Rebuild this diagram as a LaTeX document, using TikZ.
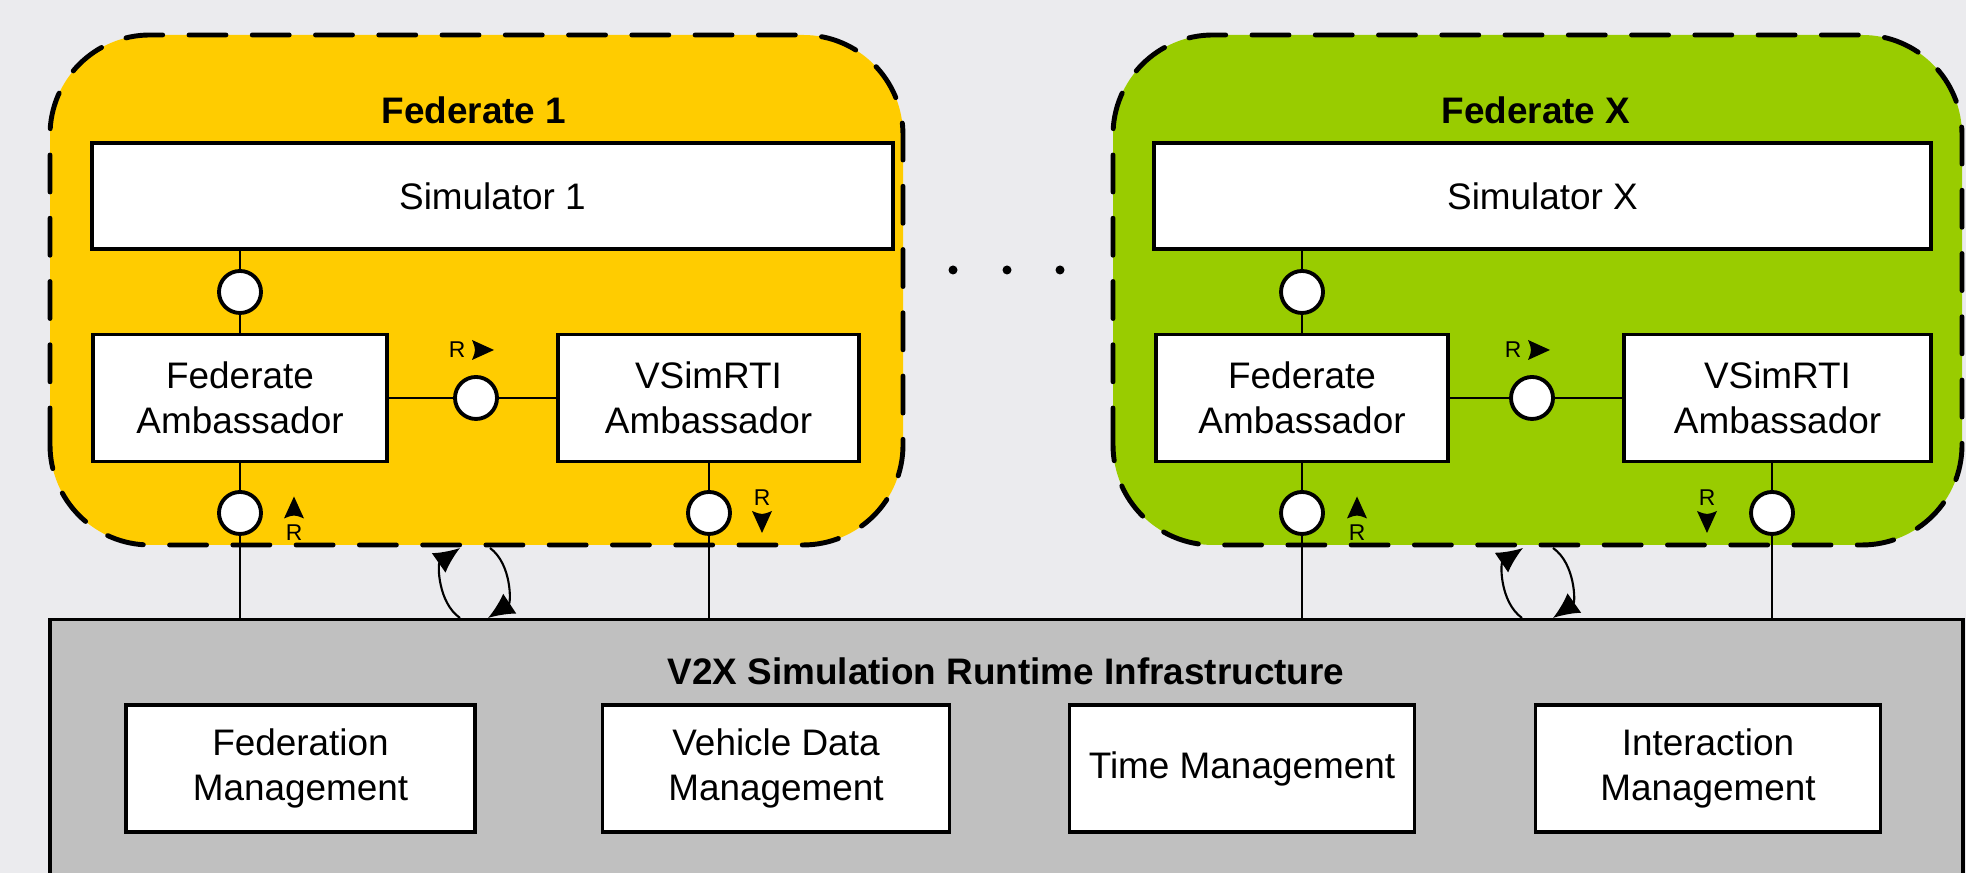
\documentclass[tikz,border=0pt]{standalone}
\usepackage{fontspec}
\setmainfont{Liberation Sans}
\usepackage{tikz}
\usetikzlibrary{positioning}
\usetikzlibrary{arrows.meta}
\definecolor{bgcol}{RGB}{235,235,238}
\definecolor{fedyellow}{RGB}{255,204,0}
\definecolor{fedgreen}{RGB}{153,204,0}
\definecolor{rtigray}{RGB}{192,192,192}
\newcommand{\rtip}[2]{\fill[shift={(#1)},rotate=#2] (0.11,0) -- (-0.11,0.1) .. controls (-0.07,0) .. (-0.11,-0.1) -- cycle;}

\begin{document}
\begin{tikzpicture}
        \tikzset{box/.style = {draw, line width=1.1pt, fill=white, align=center, inner sep=0pt, font=\fontsize{10.5}{12.8}\selectfont}}
        \tikzset{fed/.style = {draw, line width=1.4pt, dash pattern=on 10.5pt off 7.5pt, line cap=round, rounded corners=1cm}}
        \tikzset{port/.style = {circle, draw, line width=1.1pt, fill=white, minimum size=0.42cm, inner sep=0pt}}
        \tikzset{wire/.style = {line width=0.6pt}}
        \tikzset{loopedge/.style = {-{Latex[length=2.6mm,width=2.4mm]}, line width=0.6pt, bend left=55}}
        \tikzset{title/.style = {font=\fontsize{10.5}{12.8}\selectfont\bfseries}}
        \tikzset{rlabel/.style = {font=\fontsize{6.5}{7}\selectfont, inner sep=0pt}}

        % background
        \clip (0,0) rectangle (19.66,8.73);
        \fill[bgcol] (0,0) rectangle (19.66,8.73);

        % federate areas
        \draw[fed, fill=fedyellow] (0.50,3.28) rectangle (9.03,8.38);
        \draw[fed, fill=fedgreen] (11.13,3.28) rectangle (19.62,8.38);

        % rti
        \node[draw, line width=1.1pt, fill=rtigray, minimum width=19.13cm, minimum height=2.74cm] (rti) at (10.065,1.165) {};
        \node[title] (rtititle) at (10.06,2.02) {V2X Simulation Runtime Infrastructure};
        \node[box, minimum width=3.49cm, minimum height=1.27cm] (fedmgmt) at (3.005,1.045) {Federation\\Management};
        \node[box, minimum width=3.47cm, minimum height=1.27cm] (vehmgmt) at (7.76,1.045) {Vehicle Data\\Management};
        \node[box, minimum width=3.45cm, minimum height=1.27cm] (timemgmt) at (12.42,1.045) {Time Management};
        \node[box, minimum width=3.45cm, minimum height=1.27cm] (intmgmt) at (17.08,1.045) {Interaction\\Management};

        % federate 1
        \node[title] (fedtitle1) at (4.74,7.63) {Federate 1};
        \node[box, minimum width=8.01cm, minimum height=1.06cm] (sim1) at (4.925,6.77) {Simulator 1};
        \node[box, minimum width=2.94cm, minimum height=1.27cm] (fedamb1) at (2.40,4.75) {Federate\\Ambassador};
        \node[box, minimum width=3.01cm, minimum height=1.27cm] (rtiamb1) at (7.085,4.75) {VSimRTI\\Ambassador};
        \node[port] (p1a) at (2.40,5.81) {};
        \node[port] (p1b) at (4.76,4.75) {};
        \node[port] (p1c) at (2.40,3.60) {};
        \node[port] (p1d) at (7.09,3.60) {};

        \draw[wire] (sim1.south -| p1a) -- (p1a) -- (p1a |- fedamb1.north);
        \draw[wire] (fedamb1) -- (p1b) -- (rtiamb1);
        \draw[wire] (p1c |- fedamb1.south) -- (p1c) -- (p1c |- rti.north);
        \draw[wire] (p1d |- rtiamb1.south) -- (p1d) -- (p1d |- rti.north);

        % federate x
        \node[title] (fedtitlex) at (15.36,7.63) {Federate X};
        \node[box, minimum width=7.77cm, minimum height=1.06cm] (simx) at (15.425,6.77) {Simulator X};
        \node[box, minimum width=2.92cm, minimum height=1.27cm] (fedambx) at (13.02,4.75) {Federate\\Ambassador};
        \node[box, minimum width=3.07cm, minimum height=1.27cm] (rtiambx) at (17.775,4.75) {VSimRTI\\Ambassador};
        \node[port] (pxa) at (13.02,5.81) {};
        \node[port] (pxb) at (15.32,4.75) {};
        \node[port] (pxc) at (13.02,3.60) {};
        \node[port] (pxd) at (17.72,3.60) {};

        \draw[wire] (simx.south -| pxa) -- (pxa) -- (pxa |- fedambx.north);
        \draw[wire] (fedambx) -- (pxb) -- (rtiambx);
        \draw[wire] (pxc |- fedambx.south) -- (pxc) -- (pxc |- rti.north);
        \draw[wire] (pxd |- rtiambx.south) -- (pxd) -- (pxd |- rti.north);

        % R markers
        \node[rlabel] (r1b) at (4.57,5.23) {R};
        \rtip{4.83,5.23}{0}
        \node[rlabel] (r1c) at (2.94,3.40) {R};
        \rtip{2.94,3.655}{90}
        \node[rlabel] (r1d) at (7.62,3.75) {R};
        \rtip{7.62,3.51}{-90}
        \node[rlabel] (rxb) at (15.13,5.23) {R};
        \rtip{15.39,5.23}{0}
        \node[rlabel] (rxc) at (13.57,3.40) {R};
        \rtip{13.57,3.655}{90}
        \node[rlabel] (rxd) at (17.07,3.75) {R};
        \rtip{17.07,3.51}{-90}

        % loops
        \coordinate (loop1a) at (4.60,2.55);
        \coordinate (loop1b) at (4.60,3.25);
        \coordinate (loop1c) at (4.90,3.25);
        \coordinate (loop1d) at (4.88,2.55);
        \draw[loopedge] (loop1a) to (loop1b);
        \draw[loopedge] (loop1c) to (loop1d);
        \coordinate (loopxa) at (15.22,2.55);
        \coordinate (loopxb) at (15.23,3.25);
        \coordinate (loopxc) at (15.53,3.25);
        \coordinate (loopxd) at (15.53,2.55);
        \draw[loopedge] (loopxa) to (loopxb);
        \draw[loopedge] (loopxc) to (loopxd);

        % dots
        \foreach \x in {9.53,10.07,10.60}
            \fill (\x,6.03) circle (0.045);

\end{tikzpicture}
\end{document}
